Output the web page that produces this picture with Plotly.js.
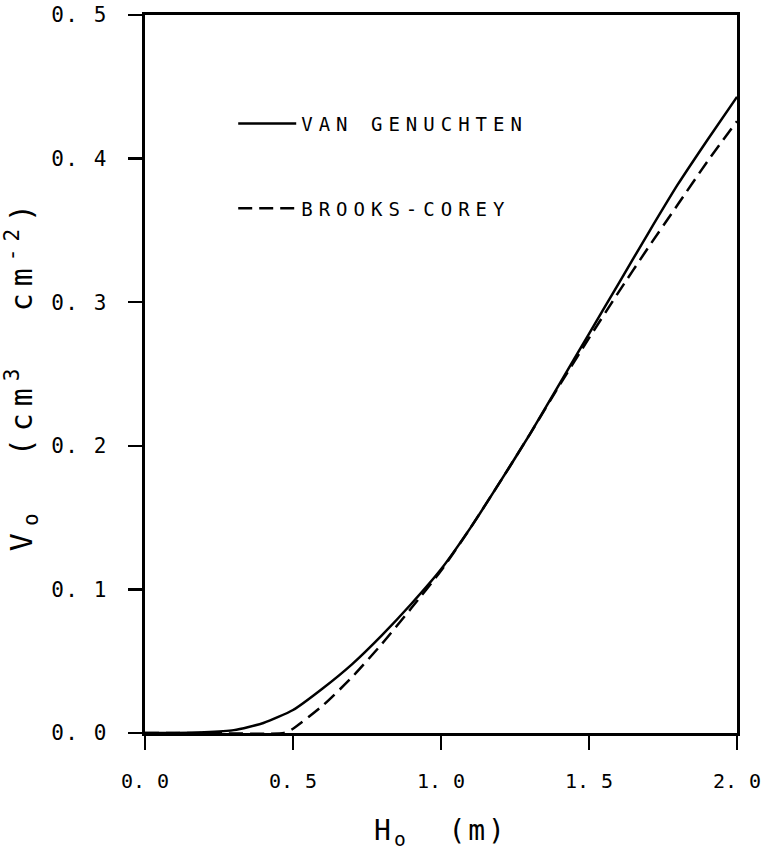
<!DOCTYPE html>
<html>
<head>
<meta charset="utf-8">
<script src="https://cdn.plot.ly/plotly-3.0.1.min.js"></script>
<style>
body { margin: 0; background: #fff; }
#chart { width: 765px; height: 851px; }
.legendtext { letter-spacing: 6px; }
.ytick text { letter-spacing: 1.5px; }
.xtitle { letter-spacing: 3px; }
.ytitle { letter-spacing: 7px; }
</style>
</head>
<body>
<div id="chart"></div>
<script>
// Depth of ponding H_o (m)
const hVG = [0.0, 0.1, 0.2, 0.3, 0.4, 0.5, 0.6, 0.7, 0.8, 0.9, 1.0, 1.1, 1.2, 1.3, 1.4, 1.5, 1.6, 1.7, 1.8, 1.9, 2.0];
// Van Genuchten V_o (cm3 cm-2)
const vVG = [0.0, 0.0, 0.0005, 0.002, 0.007, 0.016, 0.031, 0.048, 0.068, 0.090, 0.114, 0.143, 0.175, 0.208, 0.243, 0.278, 0.313, 0.348, 0.382, 0.413, 0.443];
const hBC = [0.0, 0.2, 0.47, 0.5, 0.6, 0.7, 0.8, 0.9, 1.0, 1.1, 1.2, 1.3, 1.4, 1.5, 1.6, 1.7, 1.8, 1.9, 2.0];
// Brooks-Corey V_o (cm3 cm-2)
const vBC = [0.0, 0.0, 0.0, 0.003, 0.019, 0.039, 0.062, 0.087, 0.113, 0.143, 0.175, 0.208, 0.242, 0.275, 0.307, 0.338, 0.368, 0.398, 0.426];

const xTicks = [0, 0.5, 1.0, 1.5, 2.0];
const xTickText = ["0. 0", "0. 5", "1. 0", "1. 5", "2. 0"];
const yTicks = [0, 0.1, 0.2, 0.3, 0.4, 0.5];
const yTickText = ["0. 0", "0. 1", "0. 2", "0. 3", "0. 4", "0. 5"];
const seriesNames = ["VAN GENUCHTEN", "BROOKS-COREY"];

const FONT = "DejaVu Sans Mono, Liberation Mono, monospace";

const traces = [
  { x: hVG, y: vVG, mode: "lines", name: seriesNames[0], legendgroup: "a",
    line: { color: "#000", width: 2.5, shape: "spline", smoothing: 0.6 } },
  { x: hBC, y: vBC, mode: "lines", name: seriesNames[1], legendgroup: "b",
    line: { color: "#000", width: 2.5, dash: "14px,7px", shape: "spline", smoothing: 0.6 } }
];

const layout = {
  width: 765, height: 851,
  margin: { l: 145, r: 28, t: 15, b: 118 },
  paper_bgcolor: "#fff", plot_bgcolor: "#fff",
  font: { family: FONT, color: "#000", size: 21 },
  showlegend: true,
  legend: { x: 0.149, y: 0.875, xanchor: "left", yanchor: "top", bgcolor: "rgba(0,0,0,0)",
            font: { family: FONT, size: 19, color: "#000" }, tracegroupgap: 57, traceorder: "grouped",
            itemwidth: 58 },
  xaxis: {
    range: [0, 2.0], tickvals: xTicks, ticktext: xTickText, ticklabeloverflow: "allow",
    showgrid: false, zeroline: false, showline: true, linecolor: "#000", linewidth: 3,
    mirror: true, ticks: "outside", ticklen: 14, tickwidth: 2.5, tickcolor: "#000",
    ticklabelstandoff: 14, tickfont: { family: FONT, size: 20 },
    title: { text: "H<sub>o</sub>  (m)", font: { family: FONT, size: 28 }, standoff: 32 }
  },
  yaxis: {
    range: [0, 0.5], tickvals: yTicks, ticktext: yTickText, ticklabeloverflow: "allow",
    showgrid: false, zeroline: false, showline: true, linecolor: "#000", linewidth: 3,
    mirror: true, ticks: "outside", ticklen: 14, tickwidth: 2.5, tickcolor: "#000",
    ticklabelstandoff: 16, tickfont: { family: FONT, size: 21 },
    title: { text: "V<sub>o</sub>  (cm<sup>3</sup>  cm<sup>-2</sup>)", font: { family: FONT, size: 30 }, standoff: 12 }
  }
};

Plotly.newPlot("chart", traces, layout, { displayModeBar: false, staticPlot: true });
</script>
</body>
</html>
